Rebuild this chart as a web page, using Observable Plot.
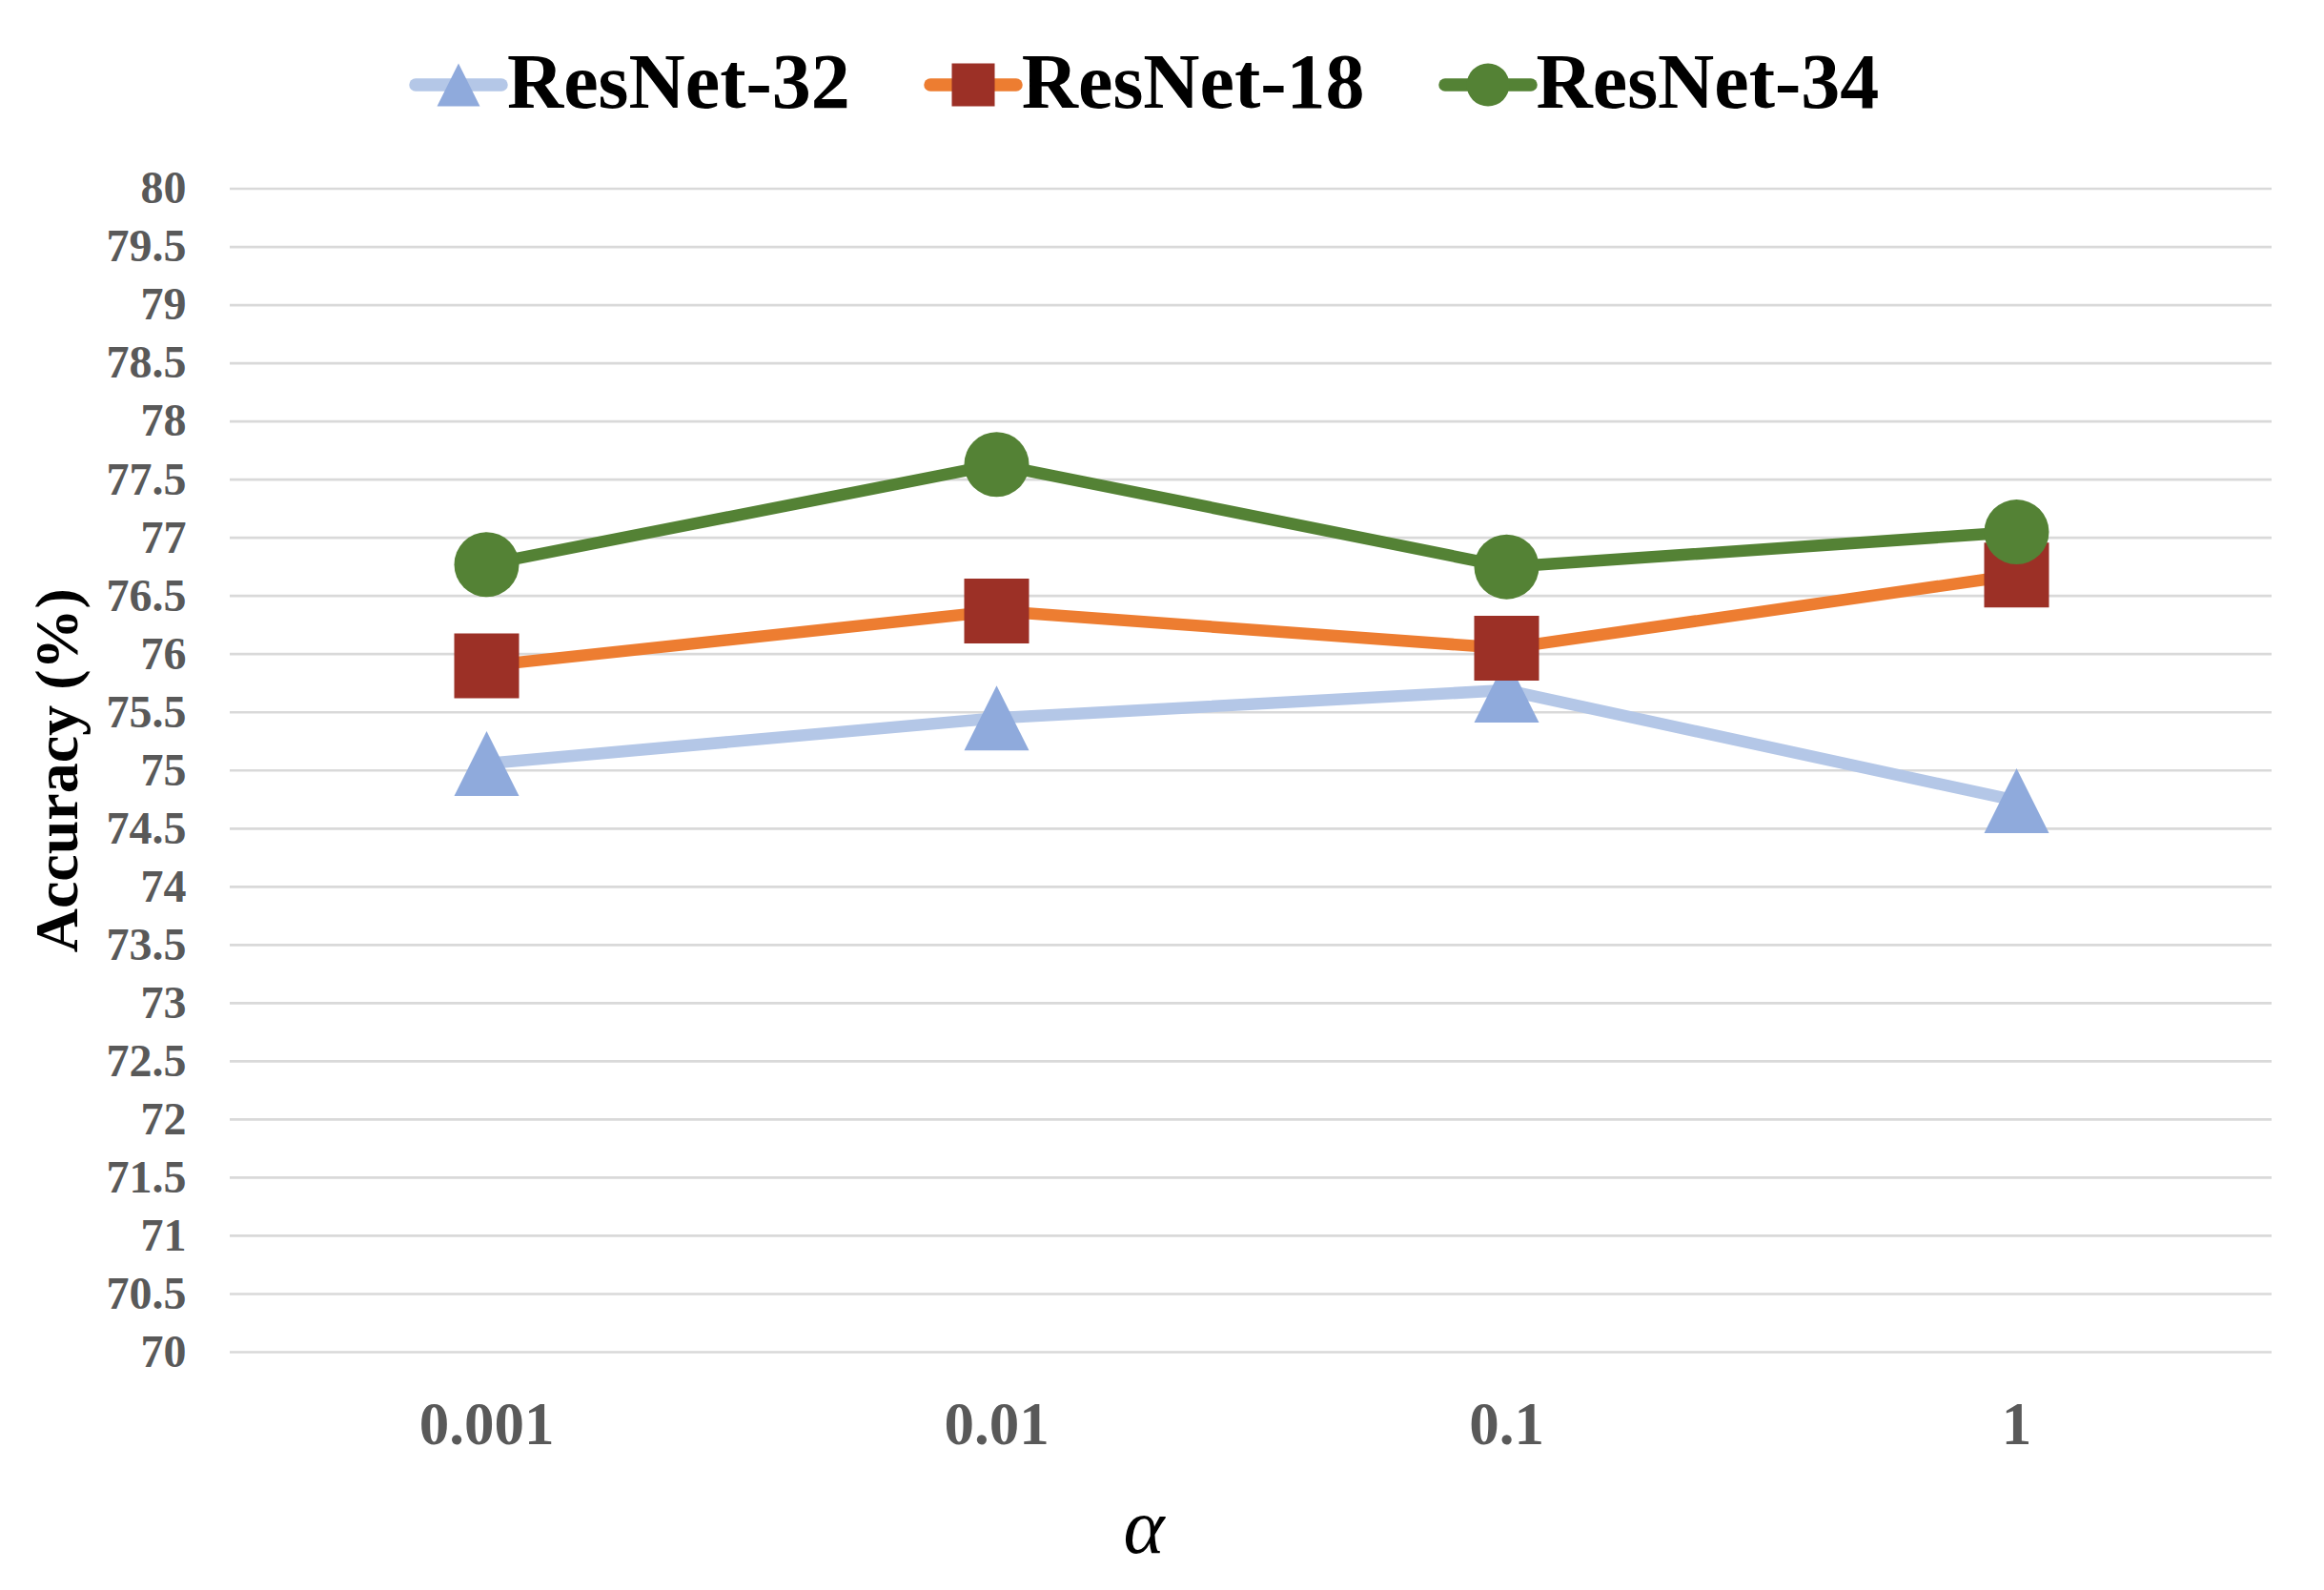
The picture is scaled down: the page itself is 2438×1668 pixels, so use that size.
<!DOCTYPE html>
<html>
<head>
<meta charset="utf-8">
<script src="https://cdn.jsdelivr.net/npm/d3@7"></script>
<script src="https://cdn.jsdelivr.net/npm/@observablehq/plot@0.6"></script>
<style>
  html, body { margin: 0; padding: 0; background: #ffffff; }
  #wrap { position: relative; width: 2438px; height: 1668px; background: #ffffff; font-family: "Liberation Serif", "Times New Roman", serif; }
  #legend { position: absolute; left: 429px; top: 45px; height: 82px; display: flex; align-items: center; gap: 77px; }
  .item { display: flex; align-items: center; height: 82px; }
  .item svg { display: block; margin-right: -1px; position: relative; top: 3px; }
  .item span { font-size: 82px; line-height: 1; font-weight: bold; color: #000000; white-space: nowrap; }
  #chart { position: absolute; left: 0; top: 150px; }
  #xlabel { position: absolute; left: 1200px; top: 1561px; transform: translateX(-50%); font-size: 82px; line-height: 1; font-style: italic; color: #000000; }
</style>
</head>
<body>
<div id="wrap">
  <div id="legend"></div>
  <div id="chart"></div>
  <div id="xlabel">α</div>
</div>
<script>
// ---- data ----
const alphas = ["0.001", "0.01", "0.1", "1"];
const seriesNames = ["ResNet-32", "ResNet-18", "ResNet-34"];
const resnet32 = [75.06, 75.45, 75.69, 74.74];
const resnet18 = [75.90, 76.37, 76.05, 76.68];
const resnet34 = [76.77, 77.63, 76.75, 77.05];
const yTicks = d3.range(70, 80.001, 0.5);

// ---- styles ----
const lineColors = {"ResNet-32": "#B4C7E7", "ResNet-18": "#ED7D31", "ResNet-34": "#548235"};
const markColors = {"ResNet-32": "#8FAADC", "ResNet-18": "#9C3026", "ResNet-34": "#548235"};
const markKinds = {"ResNet-32": "triangle", "ResNet-18": "square", "ResNet-34": "circle"};

function makeSymbol(kind) {
  return {
    draw(ctx, size) {
      const r = Math.sqrt(size / Math.PI);
      if (kind === "circle") {
        ctx.moveTo(r, 0);
        ctx.arc(0, 0, r, 0, 2 * Math.PI);
      } else if (kind === "square") {
        ctx.rect(-r, -r, 2 * r, 2 * r);
      } else {
        ctx.moveTo(0, -r);
        ctx.lineTo(r, r);
        ctx.lineTo(-r, r);
        ctx.closePath();
      }
    }
  };
}

const valuesBySeries = {"ResNet-32": resnet32, "ResNet-18": resnet18, "ResNet-34": resnet34};
const rows = seriesNames.map(name => alphas.map((a, i) => ({series: name, alpha: a, acc: valuesBySeries[name][i]})));

const seriesMarks = rows.flatMap(data => {
  const name = data[0].series;
  return [
    Plot.line(data, {x: "alpha", y: "acc", stroke: lineColors[name], strokeWidth: 12.5, strokeLinejoin: "round", strokeLinecap: "round"}),
    Plot.dot(data, {x: "alpha", y: "acc", r: 34, symbol: makeSymbol(markKinds[name]), fill: markColors[name], stroke: "none"})
  ];
});

const chart = Plot.plot({
  width: 2438,
  height: 1390,
  marginTop: 47.5,
  marginBottom: 122,
  marginLeft: 241,
  marginRight: 55,
  style: {fontFamily: "'Liberation Serif', 'Times New Roman', serif", background: "#ffffff"},
  x: {type: "point", domain: alphas, padding: 0.5},
  y: {domain: [70, 80]},
  marks: [
    Plot.gridY(yTicks, {stroke: "#D9D9D9", strokeOpacity: 1, strokeWidth: 2.7}),
    Plot.axisY({ticks: yTicks, tickSize: 0, tickPadding: 46, tickFormat: d => String(d),
      fontSize: 48, fontWeight: "bold", fill: "#595959",
      label: null}),
    Plot.axisY({ticks: [], tickSize: 0, label: "Accuracy (%)", labelAnchor: "center", labelArrow: "none",
      labelOffset: 206, fontSize: 64, fontWeight: "bold", fill: "#000000"}),
    Plot.axisX({tickSize: 0, tickPadding: 52, fontSize: 63, fontWeight: "bold", fill: "#595959", label: null}),
    ...seriesMarks
  ]
});
document.getElementById("chart").appendChild(chart);

// ---- legend ----
const legend = d3.select("#legend");
seriesNames.forEach(name => {
  const item = legend.append("div").attr("class", "item");
  const svg = item.append("svg").attr("width", 104).attr("height", 60);
  svg.append("line").attr("x1", 7).attr("x2", 97).attr("y1", 30).attr("y2", 30)
    .attr("stroke", lineColors[name]).attr("stroke-width", 13.5).attr("stroke-linecap", "round");
  const sym = d3.symbol().type(makeSymbol(markKinds[name])).size(22.5 * 22.5 * Math.PI);
  svg.append("path").attr("d", sym()).attr("transform", "translate(52,30)").attr("fill", markColors[name]);
  item.append("span").text(name);
});
</script>
</body>
</html>
